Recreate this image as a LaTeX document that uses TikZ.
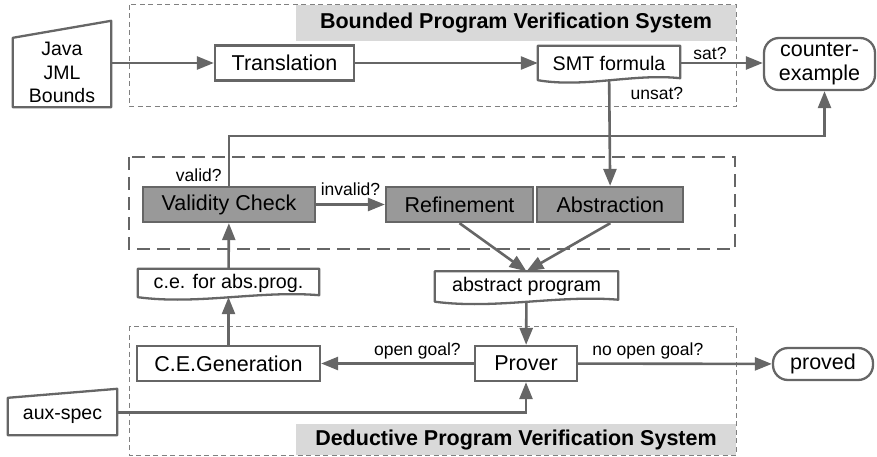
\documentclass[tikz,border=0pt]{standalone}
\usepackage{fontspec}
\setmainfont{Liberation Sans}
\usepackage{tikz}
\usetikzlibrary{arrows.meta,positioning,calc}
\definecolor{edgegray}{HTML}{666666}
\definecolor{fillgray}{HTML}{999999}
\definecolor{bargray}{HTML}{D9D9D9}
\definecolor{framegray}{HTML}{808080}

\begin{document}
\begin{tikzpicture}[x=1pt, y=-1pt, every node/.style={font=\fontsize{21.5}{24}\selectfont}, box/.style={draw=edgegray,line width=2.3pt,minimum height=35pt,inner sep=2pt}, grey/.style={box,fill=fillgray}, term/.style={box,rounded corners=15pt,align=center}, doc/.style={inner sep=2pt,font=\fontsize{19.7}{23}\selectfont}, src/.style={inner sep=2pt,align=center,font=\fontsize{19.5}{23.5}\selectfont}, lbl/.style={font=\fontsize{17.5}{20}\selectfont,inner sep=2pt}, title/.style={fill=bargray,minimum width=440pt,font=\fontsize{21.5}{24}\selectfont\bfseries}, thinframe/.style={draw=framegray,line width=1pt,dash pattern=on 5pt off 3.5pt}, thickframe/.style={draw=edgegray,line width=2.7pt,dash pattern=on 13pt off 7pt}, outline/.style={draw=edgegray,line width=2.3pt,line join=round}, arr/.style={-{Triangle[length=17pt,width=13pt]},draw=edgegray,line width=2.6pt}]
\useasboundingbox (0,0) rectangle (877,457);
% system frames
\node[title,minimum height=36pt] (btitle) at (516,23) {Bounded Program Verification System};
\node[title,minimum height=31pt] (dtitle) at (516,439.5) {Deductive Program Verification System};
\draw[thinframe] (129,5) rectangle (736,107);
\draw[thickframe] (129,157) rectangle (735,249);
\draw[thinframe] (129,326) rectangle (736,455);
% inputs
\node[src,minimum width=98pt,minimum height=69pt] (java) at (62,72.5) {Java\\JML\\Bounds};
\node[src,minimum width=109pt,minimum height=37pt] (aux) at (62.5,416.5) {aux-spec};
\foreach \n/\r in {java/17pt,aux/9pt}
  \draw[outline] (\n.south west) -- (\n.south east) -- ([yshift=\r]\n.north east) -- (\n.north west) -- cycle;
% steps
\node[box,minimum width=139pt] (trans) at (284.5,63) {Translation};
\node[doc,minimum width=142pt,minimum height=34pt] (smt) at (609,63) {SMT formula};
\node[term,minimum width=111pt,minimum height=52pt] (counter) at (819.5,64) {counter-\\example};
\node[grey,minimum width=172pt] (valid) at (229,204.5) {Validity Check};
\node[grey,minimum width=147pt] (refine) at (459.5,204.5) {Refinement};
\node[grey,minimum width=146pt,right=2pt of refine] (abst) {Abstraction};
\node[doc,minimum width=181pt,minimum height=28pt] (ceabs) at (228.5,283) {c.e. for abs.prog.};
\node[doc,minimum width=183pt,minimum height=30pt] (absprog) at (526.5,286.5) {abstract program};
\node[box,minimum width=183pt] (cegen) at (228.5,363.5) {C.E.Generation};
\node[box,minimum width=102pt] (prover) at (526,363.5) {Prover};
\node[term,minimum width=100pt,minimum height=32pt] (proved) at (823,364) {proved};
\foreach \n in {smt,ceabs,absprog}
  \draw[outline] (\n.north west) -- (\n.north east) -- ([yshift=2pt]\n.south east) .. controls ($(\n.south east)!0.33!(\n.south west)+(0pt,7pt)$) and ($(\n.south east)!0.67!(\n.south west)+(0pt,-8pt)$) .. (\n.south west) -- cycle;
% flow
\draw[arr] (java.east |- trans.west) -- (trans.west); \draw[arr] (trans) -- (smt);
\draw[arr] (smt) -- (smt -| counter.west) node[lbl,pos=.36,above] {sat?};
\draw[arr] (smt) -- (abst) node[lbl,pos=.13,right=18pt] {unsat?};
\draw[arr] (valid) -- (refine) node[lbl,midway,above=6pt] {invalid?};
\draw[arr] (valid.north) -- node[lbl,pos=.22,left=4pt] {valid?} ++(0,-50) -| ([xshift=5pt]counter.south);
\draw[arr] (ceabs) -- (valid); \draw[arr] (cegen) -- (ceabs);
\draw[arr] (refine.south) -- (absprog.north); \draw[arr] (abst.south) -- (absprog.north);
\draw[arr] (absprog) -- (prover);
\draw[arr] (prover) -- (cegen) node[lbl,pos=.37,above=1pt] {open goal?};
\draw[arr] (prover) -- (proved) node[lbl,pos=.36,above=1pt] {no open goal?};
\draw[arr] ([yshift=4pt]aux.east) -| (prover);
\end{tikzpicture}
\end{document}
